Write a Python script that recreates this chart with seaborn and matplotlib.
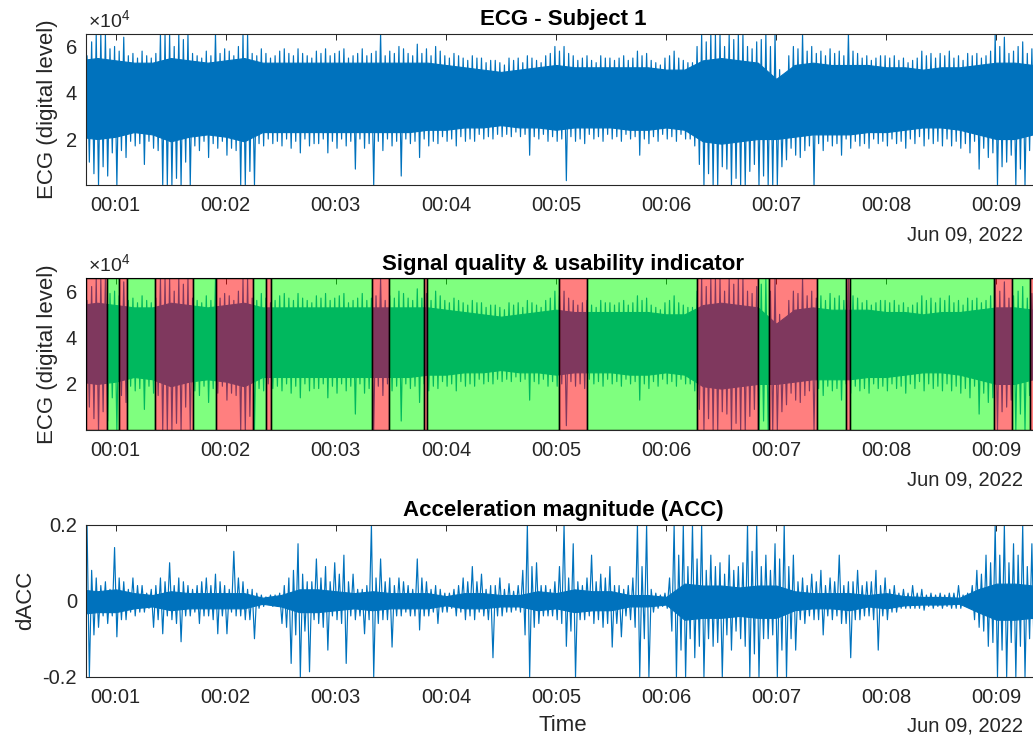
import numpy as np
import pandas as pd
import matplotlib
matplotlib.use("Agg")
import matplotlib.pyplot as plt
import matplotlib.dates as mdates
import seaborn as sns

# ---------------- data ----------------
# sampling grids, seconds after 2022-06-09 00:00:00
t_peak = list(range(45, 561, 5))             # envelope extremes at 00:00:45, :50, ...
t_mid = [t + 2.5 for t in range(45, 556, 5)]  # in-between teeth at :47.5, :52.5, ...
t_core = list(range(40, 561, 10))            # dense core of the trace, every 10 s

# ECG extremes on the 5 s grid (x 1e4 digital level)
ecg_peak_hi = [5.6, 6.55, 6.55, 6.0, 6.4, 5.7, 5.8, 5.5, 6.55, 6.55,
               6.55, 6.55, 5.6, 5.8, 6.55, 5.9, 5.6, 6.55, 5.7, 5.9,
               5.5, 5.8, 5.7, 5.9, 5.6, 5.8, 5.9, 5.7, 5.9, 5.6,
               5.9, 5.7, 6.55, 5.8, 6.0, 5.7, 6.1, 5.9, 6.0, 5.6,
               5.7, 5.5, 5.6, 5.5, 5.4, 5.3, 5.5, 5.5, 5.6, 5.4,
               5.6, 6.0, 6.0, 5.6, 5.5, 5.4, 5.6, 5.5, 5.5, 5.4,
               5.8, 5.7, 5.3, 5.5, 5.8, 5.4, 5.3, 6.55, 6.55, 6.55,
               6.55, 6.55, 6.0, 6.2, 6.55, 6.55, 4.2, 6.0, 6.55, 6.0,
               5.8, 5.9, 5.8, 6.55, 5.7, 5.6, 5.5, 5.6, 5.6, 5.5,
               5.4, 5.8, 5.7, 5.7, 5.8, 5.6, 5.7, 5.7, 5.6, 6.55,
               6.4, 5.8, 6.2, 5.9]
ecg_peak_lo = [1.0, 0.0, 0.4, 0.0, 1.2, 1.7, 0.9, 1.6, 0.0, 0.0,
               0.0, 0.0, 1.5, 1.2, 1.6, 1.3, 1.5, 0.0, 0.0, 1.7,
               1.8, 1.7, 1.6, 1.4, 1.7, 1.8, 1.4, 1.6, 1.7, 0.7,
               1.6, 0.0, 1.5, 1.7, 0.4, 1.8, 1.2, 1.7, 1.8, 1.9,
               1.7, 1.9, 1.9, 2.0, 2.0, 2.1, 2.1, 2.1, 1.3, 2.0,
               1.9, 1.9, 0.2, 1.9, 1.8, 2.0, 1.9, 2.0, 1.9, 2.0,
               1.3, 1.8, 1.9, 2.0, 1.9, 2.0, 1.7, 0.0, 0.0, 0.8,
               0.0, 0.0, 0.6, 0.0, 0.0, 0.0, 1.1, 1.3, 1.5, 0.0,
               1.5, 1.7, 1.3, 1.6, 1.7, 1.6, 1.8, 1.7, 1.8, 1.6,
               1.8, 1.7, 1.8, 1.7, 1.7, 1.6, 1.4, 0.7, 1.2, 0.0,
               1.0, 0.0, 0.0, 1.2]
# ECG teeth between those samples (x 1e4)
ecg_mid_hi = [6.2, 6.55, 5.9, 5.8, 5.6, 5.5, 5.6, 5.7, 6.55, 6.0,
              6.3, 5.7, 5.5, 5.6, 5.7, 5.8, 6.0, 6.55, 5.6, 5.7,
              5.6, 5.9, 5.6, 5.7, 5.5, 5.7, 5.6, 5.8, 5.5, 5.7,
              5.6, 5.8, 5.6, 5.7, 5.9, 5.6, 5.7, 5.6, 5.8, 5.5,
              5.6, 5.4, 5.5, 5.3, 5.4, 5.2, 5.4, 5.3, 5.5, 5.3,
              5.7, 5.8, 5.7, 5.4, 5.6, 5.3, 5.5, 5.4, 5.6, 5.5,
              5.6, 5.4, 5.2, 5.6, 5.5, 5.3, 6.0, 6.2, 6.55, 6.0,
              6.3, 6.55, 5.9, 6.3, 6.0, 5.0, 5.6, 5.9, 5.8, 5.7,
              5.6, 5.7, 5.6, 5.8, 5.5, 5.4, 5.6, 5.5, 5.4, 5.3,
              5.5, 5.6, 5.5, 5.6, 5.5, 5.4, 5.6, 5.5, 5.8, 6.0,
              5.7, 6.0, 5.7]
ecg_mid_lo = [0.5, 0.8, 1.4, 1.5, 1.9, 1.8, 1.9, 1.5, 0.0, 0.3,
              1.0, 1.7, 1.9, 1.8, 1.9, 1.6, 0.0, 0.6, 1.8, 2.0,
              1.9, 2.0, 1.9, 2.0, 1.8, 2.0, 1.9, 2.0, 1.9, 2.0,
              1.8, 1.9, 2.0, 1.9, 2.0, 1.9, 2.0, 1.9, 2.1, 2.0,
              2.1, 2.0, 2.2, 2.1, 2.2, 2.2, 2.3, 2.2, 2.1, 2.2,
              2.1, 2.0, 2.1, 2.0, 2.2, 2.1, 2.2, 2.1, 2.2, 2.1,
              2.0, 2.1, 2.2, 2.1, 2.2, 2.0, 0.9, 0.5, 0.0, 0.7,
              0.3, 0.0, 0.9, 0.4, 0.0, 0.8, 1.6, 1.2, 1.7, 1.8,
              1.9, 1.8, 2.0, 1.9, 1.8, 2.0, 1.9, 2.0, 1.9, 2.0,
              2.1, 2.0, 1.9, 2.0, 1.9, 1.8, 1.9, 1.6, 1.4, 0.8,
              1.3, 0.7, 1.5]
# ECG dense core (x 1e4)
ecg_core_hi = [5.4, 5.5, 5.4, 5.3, 5.3, 5.5, 5.4, 5.3, 5.4, 5.5,
               5.3, 5.3, 5.3, 5.3, 5.3, 5.3, 5.3, 5.3, 5.3, 5.3,
               5.2, 5.1, 5.0, 4.9, 5.0, 5.1, 5.2, 5.1, 5.1, 5.1,
               5.1, 5.1, 5.0, 5.0, 5.4, 5.5, 5.4, 5.3, 4.6, 5.2,
               5.3, 5.2, 5.2, 5.2, 5.1, 5.1, 5.0, 5.1, 5.1, 5.2,
               5.3, 5.3, 5.2]
ecg_core_lo = [2.1, 2.0, 2.1, 2.3, 2.2, 1.9, 2.1, 2.2, 2.1, 1.9,
               2.3, 2.3, 2.3, 2.3, 2.3, 2.3, 2.3, 2.3, 2.3, 2.4,
               2.4, 2.5, 2.5, 2.6, 2.5, 2.5, 2.4, 2.5, 2.5, 2.5,
               2.4, 2.4, 2.5, 2.4, 1.9, 1.8, 1.9, 2.0, 2.0, 2.1,
               2.2, 2.2, 2.2, 2.3, 2.3, 2.4, 2.5, 2.5, 2.4, 2.2,
               2.0, 2.0, 2.2]

# Acceleration magnitude (dACC) extremes on the 5 s grid
acc_peak_hi = [0.2, 0.06, 0.05, 0.14, 0.05, 0.06, 0.04, 0.03, 0.06, 0.10,
               0.06, 0.04, 0.04, 0.06, 0.07, 0.04, 0.13, 0.05, 0.03, 0.015,
               0.015, 0.02, 0.06, 0.15, 0.05, 0.11, 0.09, 0.10, 0.12, 0.07,
               0.03, 0.2, 0.11, 0.06, 0.06, 0.04, 0.11, 0.05, 0.04, 0.02,
               0.03, 0.06, 0.09, 0.07, 0.04, 0.06, 0.045, 0.04, 0.2, 0.10,
               0.04, 0.05, 0.2, 0.15, 0.04, 0.12, 0.07, 0.09, 0.04, 0.04,
               0.2, 0.2, 0.02, 0.02, 0.2, 0.2, 0.2, 0.2, 0.12, 0.10,
               0.12, 0.09, 0.2, 0.2, 0.12, 0.15, 0.2, 0.12, 0.06, 0.07,
               0.08, 0.06, 0.12, 0.05, 0.08, 0.05, 0.08, 0.06, 0.04, 0.03,
               0.04, 0.03, 0.02, 0.02, 0.02, 0.04, 0.02, 0.08, 0.12, 0.2,
               0.2, 0.15, 0.2, 0.15]
acc_peak_lo = [-0.2, -0.07, -0.06, -0.095, -0.05, -0.04, -0.03, -0.07, -0.087, -0.05,
               -0.108, -0.04, -0.06, -0.04, -0.087, -0.087, -0.04, -0.05, -0.1, -0.015,
               -0.015, -0.06, -0.165, -0.2, -0.187, -0.06, -0.13, -0.05, -0.165, -0.05,
               -0.087, -0.2, -0.05, -0.122, -0.04, -0.04, -0.077, -0.04, -0.06, -0.03,
               -0.04, -0.05, -0.05, -0.04, -0.15, -0.04, -0.03, -0.03, -0.2, -0.06,
               -0.04, -0.05, -0.12, -0.2, -0.05, -0.06, -0.07, -0.122, -0.095, -0.05,
               -0.2, -0.2, -0.02, -0.02, -0.2, -0.2, -0.15, -0.2, -0.12, -0.2,
               -0.13, -0.10, -0.2, -0.2, -0.1, -0.2, -0.2, -0.13, -0.06, -0.05,
               -0.09, -0.05, -0.06, -0.15, -0.05, -0.04, -0.13, -0.05, -0.03, -0.02,
               -0.02, -0.025, -0.02, -0.02, -0.02, -0.02, -0.02, -0.07, -0.12, -0.2,
               -0.2, -0.2, -0.2, -0.15]
# dACC teeth between those samples
acc_mid_hi = [0.08, 0.04, 0.03, 0.06, 0.03, 0.04, 0.02, 0.04, 0.05, 0.04,
              0.05, 0.03, 0.05, 0.04, 0.05, 0.03, 0.06, 0.03, 0.02, 0.01,
              0.015, 0.04, 0.08, 0.07, 0.05, 0.06, 0.05, 0.07, 0.05, 0.03,
              0.04, 0.06, 0.05, 0.04, 0.05, 0.03, 0.06, 0.03, 0.03, 0.02,
              0.04, 0.05, 0.05, 0.03, 0.04, 0.03, 0.025, 0.08, 0.09, 0.04,
              0.03, 0.09, 0.06, 0.05, 0.06, 0.05, 0.06, 0.04, 0.03, 0.06,
              0.09, 0.03, 0.015, 0.06, 0.12, 0.09, 0.11, 0.08, 0.09, 0.07,
              0.08, 0.10, 0.13, 0.09, 0.08, 0.11, 0.09, 0.05, 0.04, 0.05,
              0.04, 0.05, 0.04, 0.05, 0.04, 0.05, 0.04, 0.03, 0.02, 0.02,
              0.02, 0.015, 0.015, 0.015, 0.02, 0.015, 0.04, 0.07, 0.10, 0.12,
              0.10, 0.12, 0.09]
acc_mid_lo = [-0.09, -0.04, -0.04, -0.05, -0.03, -0.03, -0.02, -0.05, -0.04, -0.06,
              -0.04, -0.03, -0.04, -0.05, -0.04, -0.03, -0.04, -0.05, -0.02, -0.01,
              -0.015, -0.07, -0.09, -0.08, -0.05, -0.07, -0.04, -0.06, -0.04, -0.04,
              -0.05, -0.06, -0.05, -0.04, -0.03, -0.04, -0.04, -0.03, -0.03, -0.02,
              -0.03, -0.04, -0.03, -0.05, -0.04, -0.03, -0.025, -0.09, -0.07, -0.04,
              -0.04, -0.06, -0.08, -0.05, -0.04, -0.05, -0.06, -0.06, -0.04, -0.07,
              -0.10, -0.03, -0.015, -0.08, -0.13, -0.10, -0.12, -0.10, -0.11, -0.09,
              -0.08, -0.12, -0.14, -0.10, -0.09, -0.13, -0.10, -0.05, -0.04, -0.05,
              -0.04, -0.04, -0.06, -0.05, -0.04, -0.05, -0.04, -0.03, -0.02, -0.02,
              -0.02, -0.015, -0.015, -0.015, -0.02, -0.015, -0.05, -0.08, -0.11, -0.13,
              -0.11, -0.12, -0.10]
acc_core_hi = [0.03, 0.025, 0.03, 0.02, 0.015, 0.025, 0.02, 0.02, 0.02, 0.02,
               0.008, 0.015, 0.03, 0.03, 0.025, 0.02, 0.025, 0.02, 0.02, 0.02,
               0.012, 0.02, 0.02, 0.015, 0.015, 0.025, 0.02, 0.03, 0.025, 0.025,
               0.015, 0.015, 0.01, 0.045, 0.04, 0.04, 0.035, 0.04, 0.04, 0.025,
               0.02, 0.02, 0.02, 0.015, 0.02, 0.012, 0.01, 0.01, 0.008, 0.03,
               0.045, 0.045, 0.04]
acc_core_lo = [-0.035, -0.03, -0.03, -0.02, -0.015, -0.025, -0.02, -0.02, -0.02, -0.02,
               -0.008, -0.015, -0.03, -0.03, -0.025, -0.02, -0.025, -0.02, -0.02, -0.02,
               -0.012, -0.02, -0.02, -0.015, -0.015, -0.025, -0.02, -0.03, -0.025, -0.025,
               -0.015, -0.015, -0.01, -0.05, -0.045, -0.045, -0.04, -0.045, -0.045, -0.025,
               -0.02, -0.02, -0.025, -0.015, -0.02, -0.012, -0.01, -0.01, -0.008, -0.03,
               -0.05, -0.05, -0.045]

# signal-quality segments (boundaries in seconds) and their verdicts
seg_edges = [43.8, 55.5, 62.0, 65.9, 81.5, 102.2, 114.8, 134.6, 142.1, 144.5,
             199.5, 209.2, 227.8, 229.9, 301.6, 317.0, 376.6, 410.1, 415.9,
             442.1, 458.1, 460.2, 538.8, 548.6, 558.3, 563.8]
seg_quality = ["bad", "good", "bad", "good", "bad", "good", "bad", "good", "bad",
               "good", "bad", "good", "bad", "good", "bad", "good", "bad", "good",
               "bad", "good", "bad", "good", "bad", "good", "bad"]

x_range = [43.8, 563.8]
ecg_ticks = [20000, 40000, 60000]
ecg_tick_labels = ["2", "4", "6"]
acc_ticks = [-0.2, 0.0, 0.2]
acc_tick_labels = ["-0.2", "0", "0.2"]
date_label = "Jun 09, 2022"

for arr in (ecg_peak_hi, ecg_peak_lo, acc_peak_hi, acc_peak_lo):
    assert len(arr) == len(t_peak)
for arr in (ecg_mid_hi, ecg_mid_lo, acc_mid_hi, acc_mid_lo):
    assert len(arr) == len(t_mid)
for arr in (ecg_core_hi, ecg_core_lo, acc_core_hi, acc_core_lo):
    assert len(arr) == len(t_core)

# ---------------- styling ----------------
sns.set_theme(style="white")
plt.rcParams.update({
    "font.family": ["Liberation Sans", "DejaVu Sans"],
    "axes.unicode_minus": False,
    "mathtext.fontset": "custom",
    "mathtext.rm": "Liberation Sans",
    "mathtext.it": "Liberation Sans:italic",
    "mathtext.bf": "Liberation Sans:bold",
})
BLUE = "#0072BD"
INK = "#262626"
BASE = pd.Timestamp("2022-06-09 00:00:00")


def to_time(sec):
    return (BASE + pd.to_timedelta(np.asarray(sec, dtype=float), unit="s")).to_numpy()


def trace_frame(hi, lo, mid_hi, mid_lo, scale):
    """Dense-trace path: each sample goes from its maximum to its minimum."""
    t = np.concatenate([t_peak, t_mid]).astype(float)
    h = np.concatenate([hi, mid_hi]).astype(float)
    l = np.concatenate([lo, mid_lo]).astype(float)
    order = np.argsort(t)
    t, h, l = t[order], h[order], l[order]
    x = np.empty(2 * len(t))
    y = np.empty(2 * len(t))
    x[0::2] = t - 0.625
    x[1::2] = t + 0.625
    y[0::2] = h * scale
    y[1::2] = l * scale
    return pd.DataFrame({"time": to_time(x), "value": y})


def draw_trace(ax, hi, lo, mid_hi, mid_lo, core_hi, core_lo, scale):
    ax.fill_between(to_time(t_core), np.asarray(core_lo) * scale,
                    np.asarray(core_hi) * scale, color=BLUE, lw=0.8,
                    edgecolor=BLUE, zorder=1)
    df = trace_frame(hi, lo, mid_hi, mid_lo, scale)
    sns.lineplot(data=df, x="time", y="value", ax=ax, color=BLUE,
                 linewidth=0.85, estimator=None, sort=False, zorder=2)


def style_axes(ax, title):
    ax.set_xlim(to_time(x_range)[0], to_time(x_range)[1])
    ax.xaxis.set_major_locator(mdates.MinuteLocator())
    ax.xaxis.set_major_formatter(mdates.DateFormatter("%H:%M"))
    ax.tick_params(axis="both", direction="in", length=4, width=0.7,
                   colors=INK, labelsize=14.5, top=True, right=True,
                   labeltop=False, labelright=False)
    ax.tick_params(axis="x", pad=7.8)
    ax.tick_params(axis="y", pad=6.5)
    for s in ax.spines.values():
        s.set_color(INK)
        s.set_linewidth(0.8)
    ax.set_title(title, fontsize=16, fontweight="bold", color="black", pad=6)
    ax.set_xlabel("")
    ax.text(0.9818, -0.327, date_label, transform=ax.transAxes, ha="right",
            va="center", fontsize=14.5, color=INK)


fig = plt.figure(figsize=(10.33, 7.4), dpi=100)
L, W = 86 / 1033, (1040 - 86) / 1033
ax1 = fig.add_axes([L, 0.7496, W, 0.2049])
ax2 = fig.add_axes([L, 0.4185, W, 0.2054])
ax3 = fig.add_axes([L, 0.0855, W, 0.2054])

# --- panel 1: ECG ---
draw_trace(ax1, ecg_peak_hi, ecg_peak_lo, ecg_mid_hi, ecg_mid_lo,
           ecg_core_hi, ecg_core_lo, 1e4)
style_axes(ax1, "ECG - Subject 1")
ax1.set_ylim(0, 65535)
ax1.set_yticks(ecg_ticks)
ax1.set_yticklabels(ecg_tick_labels)
ax1.set_ylabel("ECG (digital level)", fontsize=16, color=INK)
ax1.yaxis.set_label_coords(-0.029, 0.5)
ax1.text(0.002, 1.02, r"$\times10^{4}$", transform=ax1.transAxes,
         ha="left", va="bottom", fontsize=14, color=INK)

# --- panel 2: quality indicator ---
draw_trace(ax2, ecg_peak_hi, ecg_peak_lo, ecg_mid_hi, ecg_mid_lo,
           ecg_core_hi, ecg_core_lo, 1e4)
for a, b, q in zip(seg_edges[:-1], seg_edges[1:], seg_quality):
    face = (1, 0, 0, 0.5) if q == "bad" else (0, 1, 0, 0.5)
    ax2.axvspan(to_time([a])[0], to_time([b])[0], facecolor=face,
                edgecolor="black", linewidth=1.0, zorder=3)
style_axes(ax2, "Signal quality & usability indicator")
ax2.set_axisbelow(True)
ax2.set_ylim(0, 65535)
ax2.set_yticks(ecg_ticks)
ax2.set_yticklabels(ecg_tick_labels)
ax2.set_ylabel("ECG (digital level)", fontsize=16, color=INK)
ax2.yaxis.set_label_coords(-0.029, 0.5)
ax2.text(0.002, 1.02, r"$\times10^{4}$", transform=ax2.transAxes,
         ha="left", va="bottom", fontsize=14, color=INK)

# --- panel 3: acceleration ---
draw_trace(ax3, acc_peak_hi, acc_peak_lo, acc_mid_hi, acc_mid_lo,
           acc_core_hi, acc_core_lo, 1.0)
style_axes(ax3, "Acceleration magnitude (ACC)")
ax3.set_ylim(-0.2, 0.2)
ax3.set_yticks(acc_ticks)
ax3.set_yticklabels(acc_tick_labels)
ax3.set_ylabel("dACC", fontsize=16, color=INK)
ax3.yaxis.set_label_coords(-0.052, 0.5)
ax3.set_xlabel("Time", fontsize=16, color=INK)
ax3.xaxis.set_label_coords(0.5, -0.252)

fig.savefig("out.png", dpi=100)
